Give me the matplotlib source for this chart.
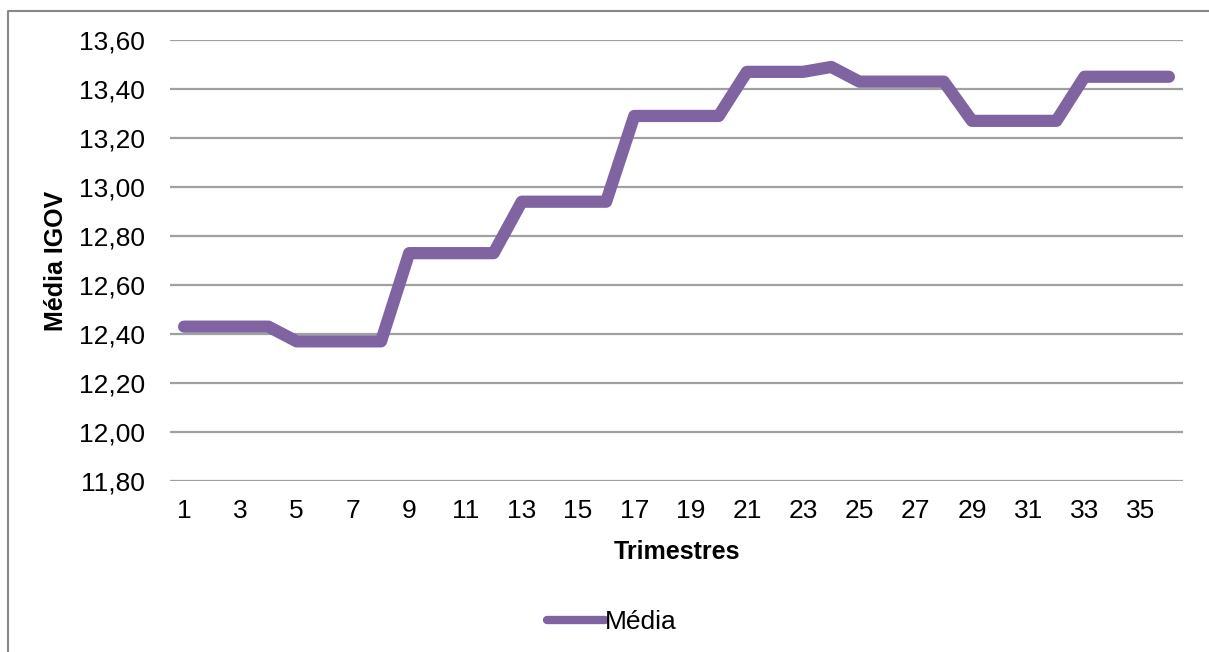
import matplotlib.pyplot as plt
from matplotlib.lines import Line2D
from matplotlib.ticker import FuncFormatter

# média do IGOV por trimestre
trimestres = list(range(1, 37))
media = [12.43, 12.43, 12.43, 12.43,
         12.37, 12.37, 12.37, 12.37,
         12.73, 12.73, 12.73, 12.73,
         12.94, 12.94, 12.94, 12.94,
         13.29, 13.29, 13.29, 13.29,
         13.47, 13.47, 13.47, 13.49,
         13.43, 13.43, 13.43, 13.43,
         13.27, 13.27, 13.27, 13.27,
         13.45, 13.45, 13.45, 13.45]

plt.rcParams['font.family'] = ['Liberation Sans', 'DejaVu Sans']

W, H = 1209, 652
fig = plt.figure(figsize=(W / 100, H / 100), dpi=100)
ax = fig.add_axes([170 / W, 1 - 481 / H, (1183 - 170) / W, (481 - 40) / H])

ax.plot(trimestres, media, color='#8064A2', linewidth=8.8,
        solid_capstyle='round', solid_joinstyle='round', label='Média', zorder=3)

ax.set_xlim(0.5, 36.5)
ax.set_ylim(11.8, 13.6)
ax.set_yticks([11.8 + 0.2 * i for i in range(10)])
ax.yaxis.set_major_formatter(FuncFormatter(lambda v, p: f"{v:.2f}".replace('.', ',')))
ax.set_xticks(trimestres[::2])

ax.grid(axis='y', color='#A0A0A0', linewidth=1.6)
ax.set_axisbelow(True)
for s in ax.spines.values():
    s.set_visible(False)
ax.tick_params(axis='both', length=0, labelsize=19)
ax.tick_params(axis='y', pad=18)
ax.tick_params(axis='x', pad=13)

ax.set_xlabel("Trimestres", fontsize=18, fontweight='bold', labelpad=12)
ax.set_ylabel("Média IGOV", fontsize=18, fontweight='bold', labelpad=8)

leg = fig.legend(loc='center', bbox_to_anchor=(612 / W, 1 - 622 / H), frameon=False,
                 fontsize=19, handlelength=2.2, handletextpad=0.0)
for h in leg.get_lines():
    h.set_linewidth(6)
    h.set_solid_capstyle('round')

# moldura externa do gráfico
fig.add_artist(Line2D([8 / W, 8 / W, 1.0], [0.0, 1 - 11 / H, 1 - 11 / H],
                      transform=fig.transFigure, color='#888888', linewidth=1.5))

fig.savefig('out.png', dpi=100)
